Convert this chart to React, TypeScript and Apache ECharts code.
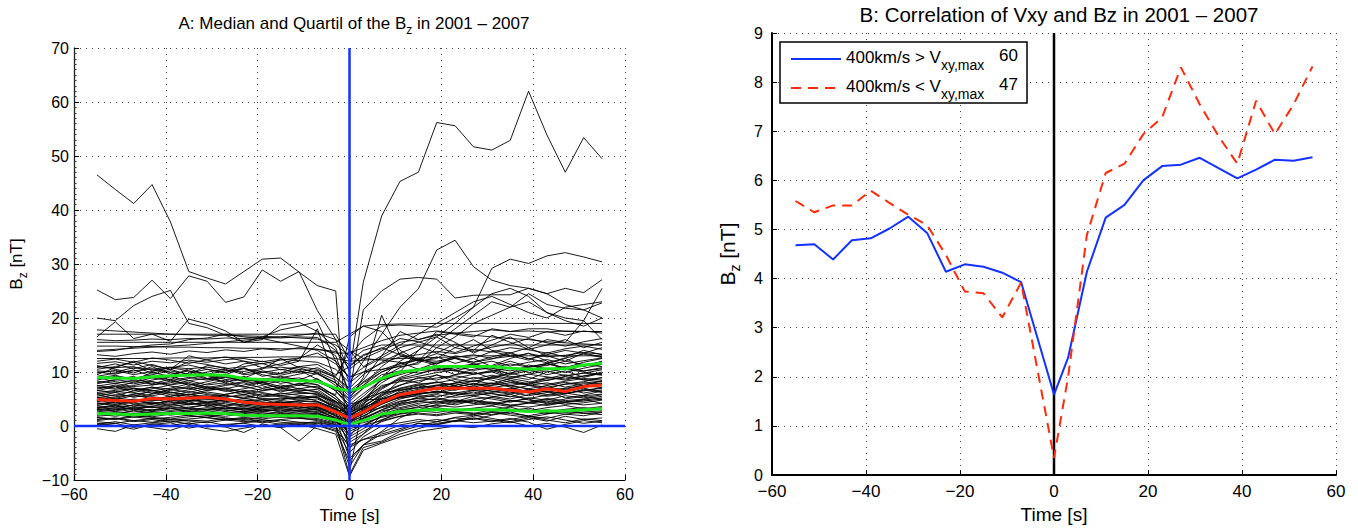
import React, { useEffect, useRef } from 'react';
import * as echarts from 'echarts';

const FONT = '"Liberation Sans", Arial, Helvetica, sans-serif';

// ---------- Panel A data ----------
const timeA = [-55, -51, -47, -43, -39, -35, -31, -27, -23, -19, -15, -11, -7, -3, 0, 3, 7, 11, 15, 19, 23, 27, 31, 35, 39, 43, 47, 51, 55];

const medianBz = [4.9, 4.7, 4.6, 5.1, 5.0, 5.2, 5.3, 5.0, 4.4, 4.1, 4.0, 3.9, 3.9, 2.6, 1.4, 2.6, 4.4, 5.8, 6.4, 7.0, 7.0, 7.0, 7.0, 6.6, 6.3, 6.9, 6.4, 7.3, 7.6];
const upperQuartBz = [9.0, 8.9, 8.8, 9.1, 9.3, 9.4, 9.5, 9.4, 8.8, 8.6, 8.5, 8.4, 8.3, 7.0, 6.5, 7.2, 8.8, 10.0, 10.4, 11.0, 11.0, 11.0, 11.0, 10.7, 10.5, 10.6, 10.6, 11.3, 11.6];
const lowerQuartBz = [2.3, 2.2, 2.1, 2.2, 2.3, 2.3, 2.4, 2.3, 2.0, 1.9, 1.9, 1.9, 1.8, 1.1, 0.3, 1.0, 2.2, 2.7, 2.9, 3.0, 3.0, 3.0, 3.0, 2.9, 2.7, 2.8, 2.8, 3.0, 3.2];

const bzTraces: number[][] = [
  [46.5, 43.8, 41.2, 44.7, 37.8, 28.6, 27.4, 26.3, 28.6, 30.9, 31.1, 28.5, 26, 25, -8.5, 4, 9, 12, 14, 16.5, 19, 22, 24.5, 25.5, 24, 21, 19.5, 18.5, 20],
  [25.2, 23.4, 23.8, 27, 23.6, 27.8, 26.8, 22.9, 23.9, 28.9, 26.8, 28.6, 21.4, 16, 10, 26.6, 38.9, 45.3, 47, 56.2, 55.6, 51.7, 51.1, 52.9, 62, 53.9, 47, 53.4, 49.5],
  [20, 19.5, 22.3, 24, 25.1, 19, 18.2, 16.8, 15.5, 16.5, 17.8, 18.5, 19.3, 12, 6, 21.5, 25, 27.2, 27.5, 27.2, 23.7, 24.2, 24.3, 24.3, 25.5, 24.5, 25.5, 24.7, 27.1],
  [16.5, 19.3, 16.2, 17, 15.7, 19.8, 18.9, 17.6, 15.5, 16, 18.7, 19.2, 17.5, 14.5, 8, 12, 17, 22, 25.4, 32.6, 34.4, 29.5, 27, 26, 25.5, 24.5, 22.5, 21.5, 20],
  [17.8, 17.6, 17.4, 17.2, 17, 16.9, 16.8, 16.8, 16.7, 16.6, 16.5, 16.3, 16.1, 15, 13, 16, 18.5, 18.7, 18.5, 18.3, 20, 22, 29.2, 30.9, 30.1, 31.5, 32.1, 31.3, 30.4],
  [17, 17, 17, 17, 17, 17, 17, 17, 17, 17, 17, 17, 17, 17, 12, 14, 15, 15, 15, 15, 15, 15, 15, 15, 15, 15, 15, 15, 15],
  [15.5, 15.5, 15.5, 15.5, 15.5, 15.5, 15.5, 15.5, 15.5, 15.5, 15.5, 15.5, 15.5, 15.5, 17, 18.5, 18.8, 18.9, 18.9, 19, 19, 19, 19, 19, 19, 19, 19, 19, 19],
  [14, 14.2, 14.4, 14.6, 14.8, 15, 15.3, 15.6, 15.9, 16.2, 16.5, 16.8, 17.2, 16, 14, 11, 13, 15, 17, 19, 21, 23, 24, 22.5, 21, 20, 22, 22.5, 23],
  [12.5, 12.5, 12.5, 12.5, 12.6, 12.6, 12.6, 12.7, 12.7, 12.7, 12.8, 12.8, 12.8, 12.5, 12, 12.2, 12.4, 12.5, 12.6, 12.7, 12.8, 13, 13, 13, 13, 13, 13, 13, 13],
  [13.8, 14, 14.6, 15, 15.2, 16, 16.3, 17, 16.5, 16.2, 15.5, 14.8, 14, 12, 9, 10, 10.5, 11, 11.5, 14.5, 16.5, 19, 20.5, 22, 23, 21, 20, 19.5, 25.5],
  [11, 10.8, 12, 11.2, 10.5, 13, 12.2, 11.5, 12, 10.8, 11.5, 12.5, 15, 13, 6, 7.5, 11, 13.5, 12, 15.5, 18, 20.5, 23, 22, 24.5, 22.5, 21.8, 21.5, 22.8],
  [10.5, 11, 11.8, 10.2, 10.8, 11.3, 10.5, 9.8, 11.5, 12, 11.2, 12, 18, 8, 3, 5, 8, 10, 14, 17.5, 17, 16.5, 18, 17.5, 18, 18, 17.5, 17.5, 17.5],
  [9.5, 10.8, 11, 9.8, 10.5, 9.5, 11.2, 10.8, 9.7, 10.5, 12.5, 10.8, 9.8, 7.5, 5, 9, 20.5, 13, 12, 12.5, 14.5, 16, 14, 13.5, 14.5, 16, 15.5, 19.5, 16],
  [11.2, 10.5, 9.8, 11, 9.6, 10.2, 8.8, 9.5, 10.7, 9.2, 9.8, 11, 10.5, 9, 6.5, 8.5, 13, 17.5, 16, 17, 15.5, 13.5, 15, 16.5, 14.5, 13, 12, 13.5, 14.5],
  [8.5, 9.2, 8.8, 9.5, 10.2, 9.6, 8.7, 9.3, 8.2, 8.6, 9.2, 8.5, 9.8, 8, 6, 8, 10, 11.5, 12.5, 11.5, 13, 12.5, 11, 12, 11, 11.5, 12.5, 11, 12],
  [9, 8.2, 7.8, 8.5, 9.1, 8.4, 7.6, 8, 9.2, 7.7, 8.3, 7.5, 8.8, 6.5, 3.5, 5.5, 8.5, 9.5, 10.5, 11.8, 12.5, 11.5, 10.8, 9.5, 10.2, 11.5, 10.8, 11.8, 12.5],
  [7.8, 8.5, 9.2, 7.6, 8, 8.8, 9.4, 7.9, 7.2, 8.1, 6.8, 7.6, 7.2, 5, 2.8, 4.5, 7, 9, 10.2, 10.8, 9.5, 10.5, 11.2, 12.5, 13.5, 12, 10.5, 10, 9.5],
  [7.2, 6.8, 7.5, 8.2, 7.4, 6.9, 7.8, 8.5, 7.3, 6.6, 7.2, 6.5, 6.8, 4.5, 2, 3.5, 6, 7.5, 9, 8.5, 9.5, 10, 8.8, 9.8, 10.5, 9.5, 10.2, 9, 9.8],
  [6.5, 7.3, 6.2, 6.9, 7.6, 8.1, 7.2, 6.4, 6.9, 7.5, 6.3, 7, 6.2, 4, 1.5, 3, 5.5, 8.5, 8, 9.5, 8.2, 7.6, 9.2, 8.5, 7.8, 8.8, 9.5, 8.5, 8.2],
  [6, 5.6, 6.5, 7.2, 6.3, 5.8, 6.6, 7.1, 6.2, 5.5, 6.1, 5.7, 5.2, 3.5, -2, 1.5, 4.5, 6.5, 7.5, 7, 8, 9, 8.5, 7.5, 8, 9, 8.5, 9.2, 10],
  [5.5, 6.2, 5.3, 5.9, 6.6, 7.1, 6, 5.6, 5.2, 6, 5.4, 5, 5.5, 3, 0.5, 2.8, 5, 6.2, 7.2, 8.2, 7.4, 6.8, 7.6, 8.4, 7.5, 6.9, 7.8, 8.2, 9],
  [5.8, 5.1, 5.9, 6.3, 5.5, 6.4, 5.8, 5.3, 5.9, 4.9, 4.8, 5.5, 4.6, 3.2, 1.2, 2.5, 4.2, 5.5, 6.5, 7.1, 6.6, 7.5, 8, 7.2, 6.3, 7.1, 6.8, 7.5, 8.4],
  [5, 4.6, 4.3, 5.2, 4.8, 5.4, 5.6, 5, 4.5, 4.2, 4.5, 3.8, 4.2, 2.8, 1.5, 2.5, 4.3, 5.8, 6.3, 6.9, 7, 7, 7, 6.6, 6.3, 6.8, 6.5, 7.2, 7.6],
  [4.5, 5.2, 4.8, 4.1, 4.6, 5.1, 4.3, 4.9, 4.2, 3.9, 4.7, 4.4, 3.6, 2.5, -4, -1.5, 2, 4.2, 5.4, 6, 6.8, 7.2, 6.4, 5.9, 6.6, 7.1, 6, 6.5, 7],
  [4.2, 3.8, 4.5, 5, 4.4, 3.9, 4.6, 4.1, 3.7, 4.3, 3.6, 4, 3.4, 2, 0.8, 1.8, 3.6, 5, 5.8, 6.5, 6, 5.6, 6.2, 7, 6.1, 5.5, 5.9, 6.8, 6.2],
  [3.8, 4.4, 3.6, 4, 4.8, 4.2, 3.7, 4.4, 3.9, 3.4, 3.9, 3.3, 3.8, 1.8, 0.2, 1.2, 3, 4.5, 5.2, 4.8, 5.6, 6.3, 5.5, 5, 5.8, 6.5, 5.2, 5.7, 6.5],
  [3.5, 3.1, 3.9, 3.4, 3.8, 4.5, 3.6, 3.2, 3.7, 3.1, 3.3, 3.7, 2.9, 1.5, -6, -3.5, -1, 1.5, 3, 4, 4.5, 5.5, 5, 4.4, 5.2, 4.8, 5.6, 5.2, 5.8],
  [3.2, 3.7, 3, 3.6, 3.2, 3.5, 3.9, 3.1, 3.4, 2.8, 3, 2.7, 3.1, 1.3, 0.5, 1, 2.5, 3.8, 4.5, 5.2, 4.6, 4.2, 5.4, 5.9, 4.8, 4.3, 5, 5.5, 4.9],
  [2.8, 3.2, 2.6, 3.1, 2.7, 3, 3.4, 2.9, 2.6, 3.2, 2.6, 2.9, 2.5, 1.2, -3, -1.5, 1, 2.8, 3.6, 4.4, 4.9, 4.2, 3.8, 4.6, 5, 4.1, 4.5, 4.8, 5.2],
  [2.5, 2.2, 2.9, 2.4, 2.6, 2.3, 2.8, 2.4, 2.7, 2.2, 2.5, 2.1, 2.4, 1, 0.3, 0.9, 2.2, 3.2, 3.9, 3.5, 4.2, 4.8, 4.1, 3.6, 4.3, 3.8, 4.4, 4.9, 4.2],
  [2.2, 1.8, 2.3, 2.5, 2, 2.4, 2.1, 2.6, 2, 1.8, 2.2, 1.9, 1.7, 0.8, -1, 0.2, 1.8, 2.6, 3, 3.4, 2.9, 3.3, 3.7, 3.1, 2.8, 3.4, 3.8, 3.2, 3.6],
  [1.8, 2.1, 1.6, 2, 2.4, 1.9, 1.6, 2.2, 1.8, 2.2, 1.6, 2, 1.9, 0.6, 0.2, 0.6, 1.6, 2.3, 2.8, 2.5, 3, 3.2, 2.7, 2.9, 3.3, 2.6, 3.1, 3.4, 3],
  [1.5, 1.2, 1.7, 1.3, 1.6, 2, 1.5, 1.2, 1.6, 1.3, 1.7, 1.4, 1.2, 0.3, -9, -4, -3, -1.5, -0.5, 0.5, 1, 1.8, 2.5, 2, 1.6, 2.2, 2.9, 2.4, 2.1],
  [1.2, 1.5, 1, 1.4, 1.1, 1.3, 1.6, 1.1, 1.4, 0.9, 1.2, 1.5, 1, 0.2, -0.5, 0.1, 1, 1.8, 2.2, 1.9, 2.4, 2.1, 2.6, 2.3, 1.9, 2.5, 2.2, 2.6, 2.8],
  [0.8, 0.5, 1, 0.7, 1.2, 0.9, 0.6, 1.1, 0.8, 1.2, 0.7, 0.5, 0.8, 0, -7.5, -3.5, -2.8, -1, 0, 0.8, 1.5, 1.2, 2, 2.6, 1.8, 1.4, 2.2, 1.9, 2.5],
  [0.2, 0.5, -0.3, 0.4, 0.1, 0.6, -0.2, 0.3, 0.5, -0.1, 0.4, 0.2, 0.5, -0.5, -5, -2, 0, 0.6, 1.2, 0.8, 1.6, 2, 1.4, 0.8, 1.5, 0.9, 1.8, 1.2, 1.5],
  [-0.5, -1, 0.2, -0.3, -0.8, 0.3, -0.5, -1, -0.4, 0.2, -0.3, -2.8, 0.1, -1, -6.5, -3.5, -1.5, -0.5, 0.5, 0.3, 1, 0.6, 0.9, 1.4, 0.7, -0.6, 0.3, 1, 0.6],
  [0.5, 0.1, -0.6, 0.3, 0.6, -0.4, 0.2, -0.2, -1.2, 0.4, -0.3, 0.3, -0.5, -1.5, -9.3, -4.5, -3.2, -2, -1, -0.5, 0, -0.3, 0.4, 0.8, 0, 0.5, -0.2, -1.2, 0.2],
  [10, 9.6, 10.4, 9.2, 8.6, 9.8, 10.5, 9.9, 10.8, 9.5, 8.9, 9.6, 10.3, 9, 7, 9.5, 11.8, 13.5, 14.8, 13.5, 15.2, 14, 16.8, 15.5, 14.2, 15, 16, 14.5, 15.5],
  [8.8, 9.4, 8.5, 9.9, 9.2, 10.6, 9.4, 8.6, 8.9, 10.2, 9.7, 10.4, 8.6, 7, 4.5, 7, 9, 10.8, 11.8, 12.8, 11.6, 12.5, 13.8, 13, 12.2, 13.6, 12.8, 14, 13.2],
  [7.5, 7, 8.2, 7.8, 8.7, 7.5, 8.2, 9, 8.4, 8.8, 7.9, 8.4, 7.6, 5.5, 2.5, 4, 6.8, 8.8, 9.6, 10.6, 10.2, 11, 10.4, 9.7, 11.3, 10.6, 9.9, 10.7, 11.4],
  [6.8, 7.6, 7, 6.5, 7, 7.8, 6.8, 7.5, 8, 7, 7.6, 6.9, 7.4, 5, 3, 4.8, 7.5, 8.2, 8.8, 9.4, 8.8, 9.6, 10.3, 9.2, 8.6, 10, 10.6, 10.2, 10.8],
  [6.2, 6.6, 6.9, 6, 6.8, 6.2, 7, 6.6, 5.8, 6.5, 7, 6.2, 5.9, 4.2, 1.8, 3.5, 5.8, 7, 7.8, 8, 8.6, 8.2, 9, 9.8, 9, 8.4, 9.2, 9.8, 9.4],
  [5.2, 5.8, 5.5, 6.6, 5.8, 5.5, 5.2, 5.9, 6.4, 5.7, 5.9, 6.4, 5.8, 3.8, 2.2, 3.2, 5.2, 6.8, 7, 7.6, 7.9, 8.4, 7.8, 8.8, 8.2, 7.7, 8.3, 8.8, 8.5],
  [4.8, 4.2, 5, 4.6, 5.3, 4.7, 5.1, 4.5, 5.1, 4.6, 5.2, 4.8, 5, 3.5, 1, 2.2, 4, 5.4, 6, 6.2, 7.2, 7.8, 7.2, 6.8, 7.5, 8, 7.2, 7.8, 7.9],
  [4, 4.6, 4.1, 4.4, 4, 4.8, 4.4, 3.8, 4.6, 4.9, 4.1, 4.6, 4.4, 3, 2.5, 3.5, 4.6, 5.2, 5.6, 5.4, 6.2, 5.9, 6.8, 6.3, 5.6, 6.2, 6.9, 6.1, 6.7],
  [3.4, 3.9, 3.3, 3.7, 4.1, 3.3, 4, 3.6, 3.2, 3.6, 4, 3.5, 3.2, 2.2, 4, 4.8, 5, 5.4, 5.9, 6.4, 5.7, 6.6, 6, 5.4, 6.4, 5.8, 6.4, 7, 6.3],
  [2.6, 3, 3.4, 2.8, 3.3, 2.7, 3.1, 3.5, 3, 2.7, 3.2, 2.8, 2.7, 1.6, 0, 1.4, 2.8, 3.4, 4.2, 4.6, 3.9, 4.7, 4.4, 3.9, 4.2, 4.6, 4, 4.3, 4.8],
  [2, 2.5, 2.1, 1.7, 2.2, 2.6, 2, 1.8, 2.3, 2.5, 2, 2.3, 2.1, 1.2, -2, -0.5, 1.2, 2.2, 2.6, 3.2, 2.6, 2.3, 3, 3.5, 2.6, 3, 2.5, 2.9, 3.4],
  [1, 1.4, 0.8, 1.2, 0.7, 1.1, 0.9, 1.4, 1, 0.6, 1.1, 0.7, 0.6, 0, -4, -2.5, -1.8, -0.8, 0.5, 0.2, 0.9, 1.4, 0.8, 1.2, 1.8, 1.1, 0.6, 1.3, 1],
  [12, 12.4, 11.8, 12.6, 12.2, 11.6, 12.3, 12.8, 12, 11.5, 12.2, 12.6, 13.5, 11.5, 9, 10.8, 12.6, 14.5, 15.5, 16.5, 14.5, 13.8, 14.6, 15.2, 16.2, 15.4, 14.8, 15.6, 16.2],
  [10.8, 11.5, 10.6, 11.4, 10.4, 11.9, 11.4, 10.6, 11, 11.6, 10.4, 11, 11.4, 9.5, 11, 13, 14.5, 13.2, 12.4, 11.5, 12.6, 11.8, 12.4, 13.4, 12.5, 11.7, 12.6, 13.3, 12.7],
  [9.2, 9.8, 10.2, 10.6, 9.9, 9.3, 10, 10.5, 9.5, 9.9, 10.5, 9.9, 10.8, 9.2, 14, 12.5, 12.2, 11.8, 10.5, 10.2, 10.9, 11.5, 10.7, 10.2, 10.9, 11.6, 10.6, 11.2, 11.9],
  [7, 7.4, 6.6, 7.2, 6.8, 7.3, 6.6, 6.9, 7.6, 8.2, 7.3, 7.8, 7, 5.8, 16.5, 18.5, 17.5, 14, 12.2, 11.2, 10.2, 9.6, 10, 9, 9.6, 10.2, 9.3, 9.8, 10.4],
  [13.2, 12.9, 13.4, 13.7, 13.3, 13.9, 13.6, 14.1, 13.8, 14.3, 14, 14.5, 14.2, 13.8, 11.2, 13.2, 14.3, 16.2, 15.6, 14.5, 13.6, 14.8, 15.9, 17, 16.4, 17.5, 16.8, 17.6, 17.2],
  [9.8, 10.3, 9.5, 10.1, 10.8, 10.2, 9.6, 10.2, 10.6, 10, 9.4, 10.1, 9.6, 8, 5.5, 7.5, 10, 11.2, 12.3, 13.4, 12.6, 11.8, 12.8, 13.6, 12.4, 13.2, 14, 13.5, 12.8],
  [8, 8.6, 8.1, 8.9, 8.4, 9, 8.5, 9.1, 8.7, 8.3, 8.8, 8.2, 8.5, 6.5, 4, 6, 8.5, 9.8, 10.6, 11.2, 10.5, 11.4, 12, 11.1, 11.8, 12.3, 11.5, 12.1, 12.6],
  [7.4, 7.9, 7.3, 7.6, 8.3, 7.8, 7.1, 7.7, 8.2, 7.8, 7.1, 7.9, 7.7, 5.5, 3.2, 5, 7.2, 8.6, 9.2, 9.9, 10.4, 9.6, 10.1, 10.8, 9.9, 10.5, 11, 10.2, 10.6],
  [6.6, 6.2, 7, 6.6, 6.1, 6.7, 7.3, 6.8, 6.3, 6.9, 6.6, 6.7, 6.4, 4.6, 2.7, 4.2, 6.3, 7.6, 8.4, 8.9, 9.3, 8.7, 9.4, 8.8, 9.6, 9.1, 8.7, 9.3, 9.7],
  [5.9, 6.4, 6.1, 5.6, 6.2, 5.7, 6.3, 5.8, 6.6, 6.2, 5.6, 6, 6.1, 4.4, 2.4, 3.8, 5.6, 6.9, 7.6, 8.1, 7.5, 8.3, 8.9, 8.1, 7.7, 8.5, 9.1, 8.6, 8.9],
  [5.3, 4.9, 5.6, 5.4, 5.1, 5.9, 5.4, 5.7, 5.1, 5.4, 5.6, 5.2, 5.3, 3.7, 1.9, 3.3, 5, 6.1, 6.8, 7.4, 7.8, 7.2, 7.9, 7.4, 6.9, 7.5, 8.1, 7.4, 7.8],
  [4.6, 4.9, 4.4, 4.7, 5, 4.5, 4.9, 4.6, 4.8, 4.4, 4.3, 4.7, 4.5, 3.2, 1.6, 2.9, 4.7, 5.7, 6.6, 6.8, 7.4, 6.6, 7.1, 7.6, 6.8, 6.4, 7, 7.5, 7.1],
  [4.3, 4, 4.7, 4.2, 4.5, 4.1, 4.3, 4.8, 4.3, 4.1, 4.4, 4.2, 4.1, 2.8, 0.9, 2.4, 4.1, 5.3, 6.1, 6.3, 6.1, 6.7, 6.5, 6.1, 6.8, 6.3, 6.1, 6.6, 7.1],
  [3.7, 3.5, 3.9, 4.2, 3.6, 4, 4.2, 3.7, 4.1, 3.7, 3.5, 3.9, 3.6, 2.4, 0.6, 1.9, 3.5, 4.6, 5.1, 5.8, 5.3, 5.7, 6, 5.5, 5.1, 5.7, 6.1, 5.6, 5.9],
  [3, 3.4, 3.1, 2.9, 3.5, 3.2, 2.9, 3.3, 2.9, 3.4, 3.4, 3.1, 3, 1.9, 0.4, 1.5, 3, 4, 4.8, 5, 4.4, 5, 5.3, 4.7, 4.4, 5.1, 4.7, 5, 5.5],
  [2.4, 2.7, 2.3, 2.7, 2.4, 2.8, 2.5, 2.2, 2.5, 2.8, 2.3, 2.6, 2.3, 1.4, -1.5, 0, 1.8, 3, 3.4, 3.8, 3.5, 3.9, 4.4, 3.8, 3.5, 4, 4.3, 3.9, 4.2],
  [1.6, 1.3, 1.9, 1.6, 1.3, 1.7, 1.9, 1.5, 1.2, 1.6, 1.9, 1.6, 1.4, 0.5, -2.5, -1, 0.8, 1.8, 2.4, 2.1, 2.7, 2.4, 2.1, 2.7, 3, 2.3, 2.7, 2.3, 2.6],
  [11.6, 11.9, 11.3, 12, 11.7, 12.2, 11.8, 12.3, 12.5, 11.9, 12.4, 12.1, 11.8, 10.5, 8, 10, 11.6, 12.8, 13.2, 13.8, 13.4, 14.2, 13.7, 14.5, 14.1, 13.5, 14.3, 14.8, 14.2],
  [10.2, 10, 10.8, 10.5, 10.9, 10.6, 10.9, 10.3, 10.1, 10.7, 10.9, 10.5, 10, 8.5, 6, 8.2, 10.4, 11.6, 12.2, 12, 12.7, 13.2, 12.5, 12.9, 13.4, 12.8, 13.1, 13.6, 13.3],
  [16, 15.8, 15.9, 16.1, 16, 16.2, 16.1, 16.3, 16.2, 16.4, 16.3, 16.5, 16.4, 14, 10.5, 12.5, 14, 15.5, 16, 16.8, 17.2, 17.5, 17.8, 17.5, 17.6, 17.4, 17.6, 17.5, 17.5],
  [14.8, 14.8, 14.7, 14.7, 14.6, 14.6, 14.5, 14.5, 14.4, 14.4, 14.3, 14.3, 14.2, 13.5, 13.5, 14.5, 15.8, 16.8, 17.2, 17.6, 17.2, 16.8, 16.5, 16.2, 16, 15.6, 15.4, 15.2, 15],
  [0.3, 0.8, 0.2, 0.6, 0.9, 0.4, 0.8, 0.1, 0.6, 0.9, 0.3, 0.6, 0.2, -0.8, -3.5, -2.5, -1.2, 0.2, 0.8, 1.2, 0.8, 1.5, 1.1, 0.6, 1.2, 1.7, 1.1, 0.5, 0.9],
  [8.3, 7.9, 8.5, 8.2, 7.7, 8.4, 8.8, 8.2, 8.6, 8.1, 8.6, 8.9, 8.1, 6.8, 5, 7, 9.5, 10.2, 9.8, 10.4, 11, 10.3, 10.8, 11.5, 10.9, 11.2, 12, 11.4, 11],
  [5, 5.4, 5.8, 5, 5.5, 5.9, 5.1, 5.4, 5.6, 5.1, 5, 5.3, 5.6, 4.5, 3.5, 5, 6.2, 6.6, 7.1, 7.5, 7.2, 7.9, 7.5, 8, 7.6, 7.2, 7.7, 8, 8.2],
  [3.1, 2.8, 3.3, 3.5, 2.9, 3.3, 3.1, 2.7, 3.2, 3, 2.8, 3.3, 3.4, 2.5, 2, 2.6, 3.4, 4.2, 4.6, 4.2, 4.8, 4.5, 4.1, 4.7, 4.3, 4.9, 4.4, 4.6, 5],
];

// ---------- Panel B data ----------
const timeB = [-55, -51, -47, -43, -39, -35, -31, -27, -23, -19, -15, -11, -7, 0, 3, 7, 11, 15, 19, 23, 27, 31, 35, 39, 43, 47, 51, 55];
const bzSlow = [4.68, 4.70, 4.39, 4.78, 4.82, 5.02, 5.26, 4.93, 4.14, 4.29, 4.24, 4.12, 3.93, 1.64, 2.39, 4.14, 5.24, 5.50, 6.00, 6.29, 6.32, 6.46, 6.25, 6.04, 6.22, 6.42, 6.40, 6.47];
const bzFast = [5.58, 5.35, 5.49, 5.49, 5.79, 5.54, 5.30, 5.09, 4.48, 3.74, 3.70, 3.21, 3.92, 0.35, 2.0, 4.89, 6.15, 6.34, 6.94, 7.28, 8.30, 7.55, 6.90, 6.34, 7.62, 6.94, 7.55, 8.32];
const legendLabels = ['400km/s > V', '400km/s < V'];
const legendSub = 'xy,max';
const legendCounts = ['60', '47'];

const ticksA = { xMin: -60, xMax: 60, xStep: 20, yMin: -10, yMax: 70, yStep: 10 };
const ticksB = { xMin: -60, xMax: 60, xStep: 20, yMin: 0, yMax: 9, yStep: 1 };

const minusFmt = (v: number) => (v < 0 ? '\u2212' + Math.abs(v) : String(v));

const BLUE = '#1432ff';
const RED = '#ff2a0a';
const GREEN = '#1ee61e';

function buildOption() {
  const zip = (xs: number[], ys: number[]) => xs.map((x, i) => [x, ys[i]]);
  const series: any[] = [];
  bzTraces.forEach((tr) => {
    series.push({
      type: 'line', xAxisIndex: 0, yAxisIndex: 0, data: zip(timeA, tr), showSymbol: false, silent: true,
      lineStyle: { color: '#000', width: 0.9 }, z: 2,
    });
  });
  series.push({ type: 'line', xAxisIndex: 0, yAxisIndex: 0, data: zip(timeA, upperQuartBz), showSymbol: false, silent: true, lineStyle: { color: GREEN, width: 3 }, z: 3 });
  series.push({ type: 'line', xAxisIndex: 0, yAxisIndex: 0, data: zip(timeA, lowerQuartBz), showSymbol: false, silent: true, lineStyle: { color: GREEN, width: 3 }, z: 3 });
  series.push({ type: 'line', xAxisIndex: 0, yAxisIndex: 0, data: zip(timeA, medianBz), showSymbol: false, silent: true, lineStyle: { color: RED, width: 3 }, z: 3 });
  series.push({ type: 'line', xAxisIndex: 0, yAxisIndex: 0, data: [[0, ticksA.yMin], [0, ticksA.yMax]], showSymbol: false, silent: true, lineStyle: { color: BLUE, width: 2.5 }, z: 4 });
  series.push({ type: 'line', xAxisIndex: 0, yAxisIndex: 0, data: [[ticksA.xMin, 0], [ticksA.xMax, 0]], showSymbol: false, silent: true, lineStyle: { color: BLUE, width: 2.5 }, z: 4 });

  series.push({ type: 'line', xAxisIndex: 1, yAxisIndex: 1, data: [[0, ticksB.yMin], [0, ticksB.yMax]], showSymbol: false, silent: true, lineStyle: { color: '#000', width: 2.5 }, z: 2 });
  series.push({ type: 'line', xAxisIndex: 1, yAxisIndex: 1, data: zip(timeB, bzSlow), showSymbol: false, silent: true, lineStyle: { color: BLUE, width: 2 }, z: 3 });
  series.push({ type: 'line', xAxisIndex: 1, yAxisIndex: 1, data: zip(timeB, bzFast), showSymbol: false, silent: true, lineStyle: { color: RED, width: 2, type: [10, 7] }, z: 3 });

  const gridDots = { show: true, lineStyle: { color: '#444', width: 1, type: [1, 5] } };

  const xAxis = [
    {
      type: 'value', gridIndex: 0, min: ticksA.xMin, max: ticksA.xMax, interval: ticksA.xStep,
      axisLine: { onZero: false, lineStyle: { color: '#000', width: 1 } },
      axisTick: { inside: true, length: 5, lineStyle: { color: '#000' } },
      axisLabel: { formatter: minusFmt, color: '#000', fontSize: 16, fontFamily: FONT, margin: 6 },
      splitLine: gridDots,
      name: 'Time [s]', nameLocation: 'middle', nameGap: 27,
      nameTextStyle: { color: '#000', fontSize: 17, fontFamily: FONT },
    },
    {
      type: 'value', gridIndex: 1, min: ticksB.xMin, max: ticksB.xMax, interval: ticksB.xStep,
      axisLine: { onZero: false, lineStyle: { color: '#000', width: 2 } },
      axisTick: { inside: true, length: 5, lineStyle: { color: '#000' } },
      axisLabel: { formatter: minusFmt, color: '#000', fontSize: 17, fontFamily: FONT, margin: 8 },
      splitLine: gridDots,
      name: 'Time [s]', nameLocation: 'middle', nameGap: 26,
      nameTextStyle: { color: '#000', fontSize: 19, fontFamily: FONT },
    },
  ];

  const yAxis = [
    {
      type: 'value', gridIndex: 0, min: ticksA.yMin, max: ticksA.yMax, interval: ticksA.yStep,
      axisLine: { onZero: false, lineStyle: { color: '#222', width: 1.3 } },
      axisTick: { inside: true, length: 5, lineStyle: { color: '#000' } },
      minorTick: { show: true, splitNumber: 10, length: 2.5, lineStyle: { color: '#333' } },
      axisLabel: { formatter: minusFmt, color: '#000', fontSize: 16, fontFamily: FONT, margin: 5 },
      splitLine: gridDots,
      name: '{n|B}{s|z}{n| [nT]}', nameLocation: 'middle', nameGap: 45,
      nameTextStyle: {
        color: '#000', fontFamily: FONT,
        rich: {
          n: { fontSize: 17, lineHeight: 26, fontFamily: FONT, color: '#000' },
          s: { fontSize: 12, lineHeight: 12, verticalAlign: 'bottom', fontFamily: FONT, color: '#000' },
        },
      },
    },
    {
      type: 'value', gridIndex: 1, min: ticksB.yMin, max: ticksB.yMax, interval: ticksB.yStep,
      axisLine: { onZero: false, lineStyle: { color: '#000', width: 2 } },
      axisTick: { inside: true, length: 5, lineStyle: { color: '#000' } },
      axisLabel: { color: '#000', fontSize: 16, fontFamily: FONT, margin: 9 },
      splitLine: gridDots,
      name: '{n|B}{s|z}{n| [nT]}', nameLocation: 'middle', nameGap: 30,
      nameTextStyle: {
        color: '#000', fontFamily: FONT,
        rich: {
          n: { fontSize: 21, lineHeight: 30, fontFamily: FONT, color: '#000' },
          s: { fontSize: 14, lineHeight: 14, verticalAlign: 'bottom', fontFamily: FONT, color: '#000' },
        },
      },
    },
  ];

  const graphic: any[] = [
    {
      type: 'text', x: 354, y: 23, z: 100,
      style: {
        text: '{n|A: Median and Quartil of the B}{s|z}{n| in 2001 \u2013 2007}',
        align: 'center', verticalAlign: 'middle', fontFamily: FONT, fill: '#000',
        rich: {
          n: { fontSize: 17, lineHeight: 26, fontFamily: FONT, fill: '#000' },
          s: { fontSize: 12, lineHeight: 12, verticalAlign: 'bottom', fontFamily: FONT, fill: '#000' },
        },
      },
    },
    {
      type: 'text', x: 1059, y: 14, z: 100,
      style: {
        text: 'B: Correlation of Vxy and Bz in 2001 \u2013 2007',
        align: 'center', verticalAlign: 'middle', fontFamily: FONT, fontSize: 20.5, fill: '#000',
      },
    },
    {
      type: 'rect', z: 100,
      shape: { x: 780, y: 42, width: 247, height: 61 },
      style: { fill: '#fff', stroke: '#000', lineWidth: 1.5 },
    },
    { type: 'line', z: 101, shape: { x1: 791, y1: 59, x2: 841, y2: 59 }, style: { stroke: BLUE, lineWidth: 2 } },
    { type: 'line', z: 101, shape: { x1: 791, y1: 88, x2: 841, y2: 88 }, style: { stroke: RED, lineWidth: 2, lineDash: [10, 7] } },
  ];
  legendLabels.forEach((lab, i) => {
    const yc = 57 + i * 29;
    graphic.push({
      type: 'text', x: 846, y: yc, z: 101,
      style: {
        text: `{n|${lab}}{s|${legendSub}}`,
        align: 'left', verticalAlign: 'middle', fontFamily: FONT, fill: '#000',
        rich: {
          n: { fontSize: 17, lineHeight: 30, fontFamily: FONT, fill: '#000' },
          s: { fontSize: 14, lineHeight: 14, verticalAlign: 'bottom', fontFamily: FONT, fill: '#000' },
        },
      },
    });
    graphic.push({
      type: 'text', x: 1018, y: yc - 2, z: 101,
      style: { text: legendCounts[i], align: 'right', verticalAlign: 'middle', fontFamily: FONT, fontSize: 17, fill: '#000' },
    });
  });

  return {
    animation: false,
    backgroundColor: '#fff',
    grid: [
      { left: 74, top: 48, width: 551, height: 434 },
      { left: 772, top: 33, width: 564, height: 445 },
    ],
    xAxis,
    yAxis,
    series,
    graphic,
  };
}

export default function App() {
  const ref = useRef<HTMLDivElement>(null);
  useEffect(() => {
    const chart = echarts.init(ref.current!, null, { renderer: 'svg' });
    chart.setOption(buildOption() as any);
    return () => chart.dispose();
  }, []);
  return (
    <div
      ref={ref}
      style={{ position: 'fixed', left: 0, top: 0, width: 1358, height: 529, background: '#fff' }}
    />
  );
}
